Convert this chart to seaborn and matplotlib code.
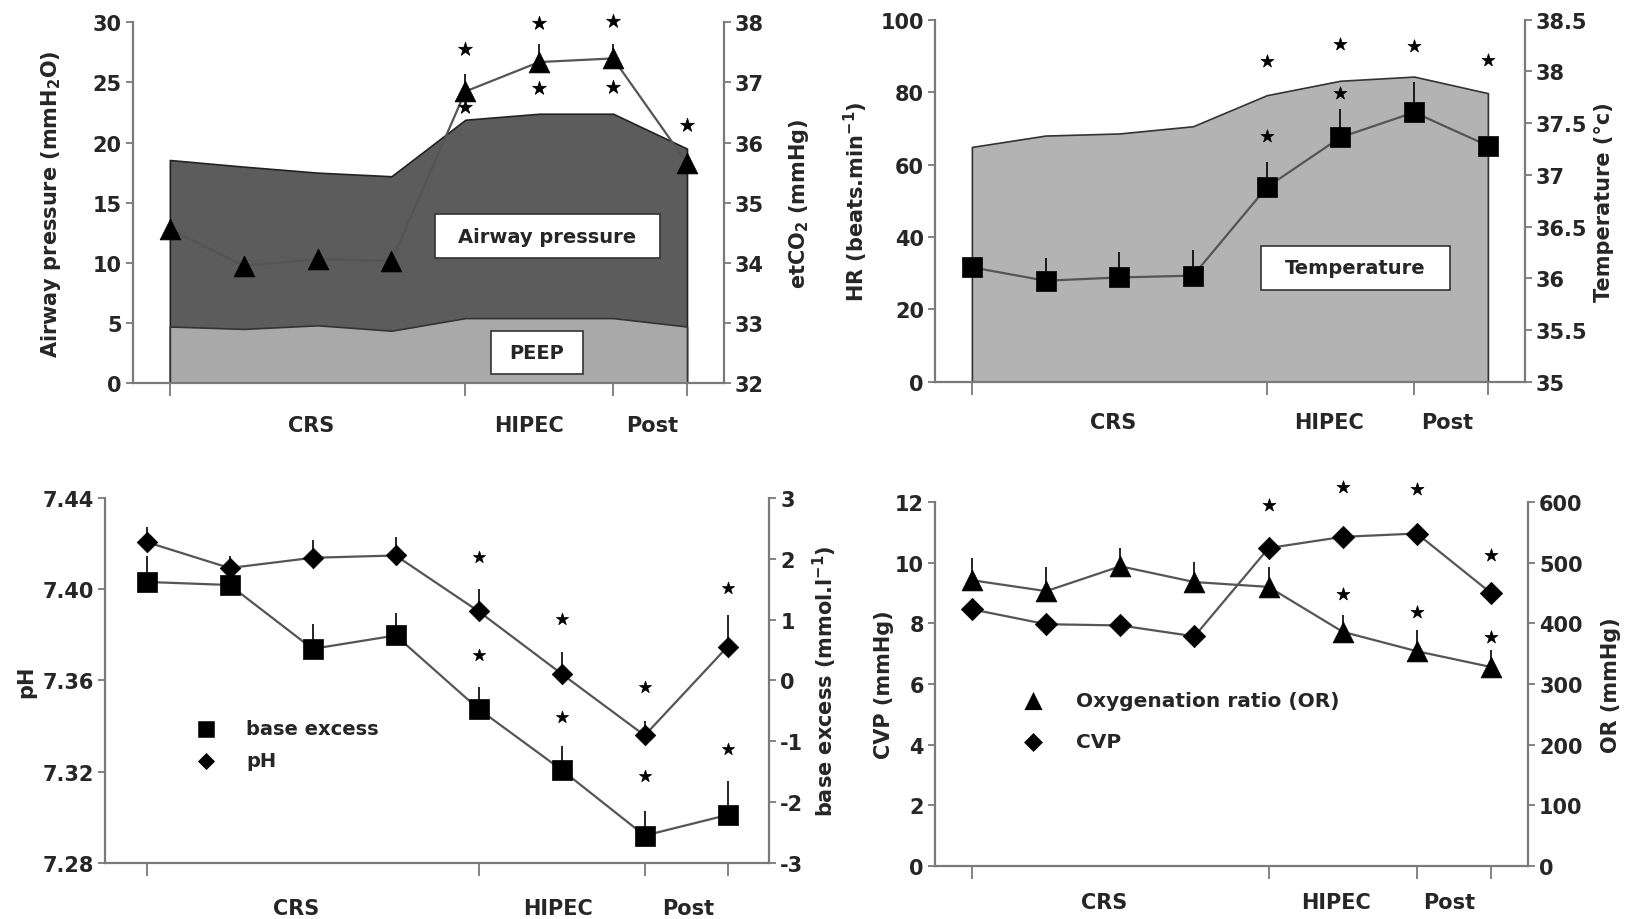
import numpy as np
import matplotlib
matplotlib.use('Agg')
import matplotlib.pyplot as plt
import seaborn as sns
from matplotlib.patches import Rectangle
from matplotlib.transforms import blended_transform_factory

# ---------------- data ----------------
time_idx = [0, 1, 2, 3, 4, 5, 6, 7]
phase_labels = ['CRS', 'HIPEC', 'Post']
phase_tick_idx = [0, 4, 6, 7]

# panel 1: airway pressure / PEEP (left, cmH2O), etCO2 (right, mmHg)
airway_pressure = [18.55, 18.0, 17.5, 17.2, 21.9, 22.4, 22.4, 19.5]
peep = [4.7, 4.5, 4.8, 4.35, 5.4, 5.4, 5.4, 4.7]
etco2 = [34.56, 33.95, 34.06, 34.03, 36.85, 37.34, 37.40, 35.66]
etco2_sd = [0, 0, 0, 0, 0.29, 0.30, 0.24, 0]
p1_star_x = [4, 4, 5, 5, 6, 6, 7]
p1_star_y = [37.55, 36.6, 37.99, 36.9, 38.03, 36.92, 36.3]

# panel 2: HR (left), temperature (right)
temperature = [37.27, 37.38, 37.40, 37.47, 37.77, 37.91, 37.95, 37.79]
hr = [31.6, 27.9, 28.8, 29.3, 53.7, 67.5, 74.4, 65.2]
hr_sd = [0, 6.4, 7.1, 7.2, 7.1, 7.8, 8.3, 0]
p2_star_x = [4, 4, 5, 5, 6, 7]
p2_star_y = [88.7, 67.8, 93.3, 79.8, 92.8, 88.9]

# panel 3: pH (left), base excess (right)
ph = [7.4207, 7.4093, 7.4138, 7.4148, 7.3903, 7.3629, 7.3359, 7.3749]
ph_sd = [0.0066, 0.0053, 0.0079, 0.0081, 0.0099, 0.0098, 0.0065, 0.0139]
base_excess = [1.62, 1.57, 0.52, 0.74, -0.47, -1.47, -2.55, -2.21]
base_excess_sd = [0.43, 0.15, 0.41, 0.37, 0.36, 0.40, 0.41, 0.56]
p3_star_x = [4, 4, 5, 5, 6, 6, 7, 7]
p3_star_y = [7.414, 7.371, 7.387, 7.344, 7.357, 7.318, 7.4005, 7.330]

# panel 4: CVP (left), oxygenation ratio (right)
cvp = [8.46, 7.97, 7.93, 7.57, 10.48, 10.85, 10.96, 9.0]
oxy_ratio = [471, 453, 494, 468, 460, 386, 354, 328]
oxy_ratio_sd = [37, 40, 30, 33, 33, 27, 35, 28]
p4_star_x = [4, 5, 6, 7, 5, 6, 7]
p4_star_y = [11.89, 12.49, 12.42, 10.26, 8.98, 8.37, 7.55]

# tick values
p1_left_ticks = [0, 5, 10, 15, 20, 25, 30]
p1_right_ticks = [32, 33, 34, 35, 36, 37, 38]
p2_left_ticks = [0, 20, 40, 60, 80, 100]
p2_right_ticks = [35, 35.5, 36, 36.5, 37, 37.5, 38, 38.5]
p3_left_ticks = [7.28, 7.32, 7.36, 7.40, 7.44]
p3_right_ticks = [-3, -2, -1, 0, 1, 2, 3]
p4_left_ticks = [0, 2, 4, 6, 8, 10, 12]
p4_right_ticks = [0, 100, 200, 300, 400, 500, 600]

# ---------------- style ----------------
sns.set_style('ticks')
plt.rcParams['font.family'] = ['DejaVu Sans']
plt.rcParams['font.weight'] = 'bold'
plt.rcParams['axes.labelweight'] = 'bold'

SPINE = '#7a7a7a'
LINE = '#555555'
FS = 15

fig = plt.figure(figsize=(16.29, 9.2), dpi=100)


def make_axes(rect):
    ax = fig.add_axes(rect)
    ax2 = ax.twinx()
    for a in (ax, ax2):
        a.spines['top'].set_visible(False)
        for s in a.spines.values():
            s.set_color(SPINE)
            s.set_linewidth(1.6)
    ax.spines['right'].set_visible(False)
    ax2.spines['left'].set_visible(False)
    ax2.spines['bottom'].set_visible(False)
    ax.set_xlim(-0.5, 7.5)
    ax2.set_xlim(-0.5, 7.5)
    ax.set_xticks(phase_tick_idx)
    ax.set_xticklabels([])
    ax.tick_params(axis='x', length=9, width=1.3, color=SPINE, direction='out')
    ax.tick_params(axis='y', length=5, width=1.3, color=SPINE, direction='out',
                   labelsize=FS, pad=3)
    ax2.tick_params(axis='y', length=5, width=1.3, color=SPINE, direction='out',
                    labelsize=FS, pad=3)
    ax.grid(False)
    ax2.grid(False)
    return ax, ax2


def fmt(v):
    return '{:g}'.format(v)


def set_y(ax, ticks, lim, labels=None):
    ax.set_ylim(*lim)
    ax.set_yticks(ticks)
    ax.set_yticklabels(labels if labels is not None else [fmt(t) for t in ticks],
                       fontweight='bold')


def phase_text(ax, xs, yoff):
    tr = blended_transform_factory(ax.transData, ax.transAxes)
    for lab, xx in zip(phase_labels, xs):
        ax.text(xx, yoff, lab, transform=tr, ha='center', va='center',
                fontsize=FS, fontweight='bold')


def stars(ax, xs, ys, size=95):
    sns.scatterplot(x=xs, y=ys, ax=ax, marker='*', s=size, color='black',
                    edgecolor='black', linewidth=0.5, clip_on=False, zorder=6,
                    legend=False)


def series(ax, y, marker, size, sd=None, zorder=4):
    sns.lineplot(x=time_idx, y=y, ax=ax, color=LINE, linewidth=1.6,
                 zorder=zorder, legend=False)
    if sd is not None:
        ax.errorbar(time_idx, y, yerr=[np.zeros(len(sd)), sd], fmt='none',
                    ecolor='black', elinewidth=1.2, capsize=0, zorder=zorder)
    sns.scatterplot(x=time_idx, y=y, ax=ax, marker=marker, s=size, color='black',
                    edgecolor='black', linewidth=0.5, zorder=zorder + 1,
                    clip_on=False, legend=False)


def label_box(ax, x0, x1, y0, y1, text, fs=14):
    ax.add_patch(Rectangle((x0, y0), x1 - x0, y1 - y0, facecolor='white',
                           edgecolor='#333333', linewidth=1.2, zorder=3))
    ax.text((x0 + x1) / 2, (y0 + y1) / 2, text, ha='center', va='center',
            fontsize=fs, fontweight='bold', zorder=4)


# ---------------- panel 1 ----------------
ax, ax2 = make_axes([0.0816, 0.5826, 0.3628, 0.392])
ax.fill_between(time_idx, 0, airway_pressure, facecolor='#5c5c5c',
                edgecolor='#222222', linewidth=1.2, zorder=1)
ax.fill_between(time_idx, 0, peep, facecolor='#a9a9a9',
                edgecolor='#333333', linewidth=1.2, zorder=2)
label_box(ax, 3.59, 6.63, 10.37, 14.06, 'Airway pressure')
label_box(ax, 4.35, 5.59, 0.75, 4.35, 'PEEP')
set_y(ax, p1_left_ticks, (0, 30))
set_y(ax2, p1_right_ticks, (32, 38))
series(ax2, etco2, '^', 225, sd=etco2_sd)
stars(ax2, p1_star_x, p1_star_y, size=110)
ax.set_ylabel('Airway pressure (mmH$_2$O)', fontsize=FS, fontweight='bold')
ax2.set_ylabel('etCO$_2$ (mmHg)', fontsize=FS, fontweight='bold')
ax.yaxis.set_label_coords(-0.118, 0.5)
ax2.yaxis.set_label_coords(1.107, 0.5)
phase_text(ax, [1.91, 4.86, 6.53], -0.117)

# ---------------- panel 2 ----------------
ax, ax2 = make_axes([0.574, 0.584, 0.362, 0.3935])
ax2.fill_between(time_idx, 35, temperature, facecolor='#b3b3b3',
                 edgecolor='#333333', linewidth=1.2, zorder=1)
ax.set_zorder(ax2.get_zorder() + 1)
ax.patch.set_visible(False)
set_y(ax, p2_left_ticks, (0, 100))
set_y(ax2, p2_right_ticks, (35, 38.5))
label_box(ax, 3.92, 6.49, 25.3, 37.6, 'Temperature')
series(ax, hr, 's', 200, sd=hr_sd)
stars(ax, p2_star_x, p2_star_y)
ax.set_ylabel('HR (beats.min$^{-1}$)', fontsize=FS, fontweight='bold')
ax2.set_ylabel('Temperature (°c)', fontsize=FS, fontweight='bold')
ax.yaxis.set_label_coords(-0.110, 0.5)
ax2.yaxis.set_label_coords(1.117, 0.5)
phase_text(ax, [1.92, 4.84, 6.45], -0.11)

# ---------------- panel 3 ----------------
ax, ax2 = make_axes([0.0645, 0.0609, 0.4077, 0.3967])
set_y(ax, p3_left_ticks, (7.28, 7.44), ['%.2f' % t for t in p3_left_ticks])
set_y(ax2, p3_right_ticks, (-3, 3))
series(ax, ph, 'D', 110, sd=ph_sd)
series(ax2, base_excess, 's', 200, sd=base_excess_sd)
stars(ax, p3_star_x, p3_star_y, size=85)
ax.set_ylabel('pH', fontsize=FS, fontweight='bold')
ax2.set_ylabel('base excess (mmol.l$^{-1}$)', fontsize=FS, fontweight='bold')
ax.yaxis.set_label_coords(-0.104, 0.5)
ax2.yaxis.set_label_coords(1.062, 0.5)
phase_text(ax, [1.80, 4.95, 6.53], -0.123)
# legend
sns.scatterplot(x=[0.71], y=[7.3388], ax=ax, marker='s', s=170, color='black',
                legend=False)
sns.scatterplot(x=[0.71], y=[7.3249], ax=ax, marker='D', s=90, color='black',
                legend=False)
ax.text(1.2, 7.3388, 'base excess', va='center', ha='left', fontsize=14,
        fontweight='bold')
ax.text(1.2, 7.3249, 'pH', va='center', ha='left', fontsize=14,
        fontweight='bold')

# ---------------- panel 4 ----------------
ax, ax2 = make_axes([0.574, 0.0576, 0.364, 0.3957])
set_y(ax, p4_left_ticks, (0, 12))
set_y(ax2, p4_right_ticks, (0, 600))
series(ax, cvp, 'D', 130)
series(ax2, oxy_ratio, '^', 225, sd=oxy_ratio_sd)
stars(ax, p4_star_x, p4_star_y)
ax.set_ylabel('CVP (mmHg)', fontsize=FS, fontweight='bold')
ax2.set_ylabel('OR (mmHg)', fontsize=FS, fontweight='bold')
ax.yaxis.set_label_coords(-0.069, 0.5)
ax2.yaxis.set_label_coords(1.123, 0.5)
phase_text(ax, [1.78, 4.91, 6.43], -0.1)
sns.scatterplot(x=[0.82], y=[5.46], ax=ax, marker='^', s=225, color='black',
                legend=False)
sns.scatterplot(x=[0.82], y=[4.09], ax=ax, marker='D', s=110, color='black',
                legend=False)
ax.text(1.4, 5.46, 'Oxygenation ratio (OR)', va='center', ha='left',
        fontsize=14.5, fontweight='bold')
ax.text(1.4, 4.09, 'CVP', va='center', ha='left', fontsize=14.5,
        fontweight='bold')

fig.savefig('out.png', dpi=100)
